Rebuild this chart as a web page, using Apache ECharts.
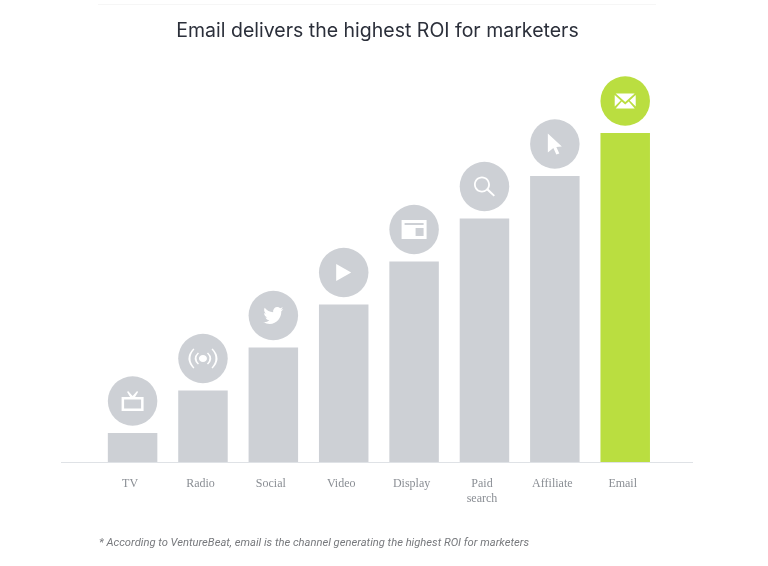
<!DOCTYPE html>
<html>
<head>
<meta charset="utf-8">
<title>Email ROI</title>
<script src="https://cdn.jsdelivr.net/npm/echarts@6/dist/echarts.min.js"></script>
<style>
  html, body { margin: 0; padding: 0; background: #fff; }
  #chart { width: 768px; height: 566px; }
</style>
</head>
<body>
<div id="chart"></div>
<script>
// no scale on the original, bar heights are read off in picture pixels
const channels = ['TV', 'Radio', 'Social', 'Video', 'Display', 'Paid\nsearch', 'Affiliate', 'Email'];
const roi = [29, 71.5, 114.5, 157.5, 200.5, 243.5, 286, 329];
const highlighted = 'Email';
const chartTitle = 'Email delivers the highest ROI for marketers';
const footnote = '* According to VentureBeat, email is the channel generating the highest ROI for marketers';

const GREY = '#cdd0d5';
const GREEN = '#bade40';

// white glyphs for the badges, holes wound the other way
const ICONS = {
  TV: { size: [22, 20], d: 'M0 6H8.5L5.5 1 6.5 0 11 5 15.5 0 16.5 1 13.5 6H22V20H0Z M2.5 8.5V17.5H19.5V8.5Z' },
  Radio: { size: [29, 20], d: 'M6 0Q-2.5 10 6 20L7 19.2Q0 10 7 0.8Z M10 4Q4.5 10 10 16L11 15.2Q6.5 10 11 4.8Z M14.5 6.5C16.5 6.5 18 8 18 10C18 12 16.5 13.5 14.5 13.5C12.5 13.5 11 12 11 10C11 8 12.5 6.5 14.5 6.5Z M23 0Q31.5 10 23 20L22 19.2Q29 10 22 0.8Z M19 4Q24.5 10 19 16L18 15.2Q22.5 10 18 4.8Z' },
  Social: { size: [20, 17], d: 'M23.953 4.57a10 10 0 0 1-2.825.775 4.958 4.958 0 0 0 2.163-2.723c-.951.555-2.005.959-3.127 1.184a4.92 4.92 0 0 0-8.384 4.482C7.69 8.095 4.067 6.13 1.64 3.162a4.822 4.822 0 0 0-.666 2.475c0 1.71.87 3.213 2.188 4.096a4.904 4.904 0 0 1-2.228-.616v.06a4.923 4.923 0 0 0 3.946 4.827 4.996 4.996 0 0 1-2.212.085 4.936 4.936 0 0 0 4.604 3.417 9.867 9.867 0 0 1-6.102 2.105c-.39 0-.779-.023-1.17-.067a13.995 13.995 0 0 0 7.557 2.209c9.053 0 13.998-7.496 13.998-13.985 0-.21 0-.42-.015-.63A9.935 9.935 0 0 0 24 4.59z' },
  Video: { size: [15, 17], d: 'M0 0L15 8.5 0 17Z' },
  Display: { size: [25, 19], d: 'M0 0H25V19H0Z M3 3V5H22V3Z M14 8V16H22V8Z' },
  'Paid\nsearch': { size: [21, 20], d: 'M8 0C12.4 0 16 3.6 16 8C16 9.7 15.5 11.2 14.6 12.5L21 18.8 19.7 20 13 14.1C11.6 15.3 9.9 16 8 16C3.6 16 0 12.4 0 8C0 3.6 3.6 0 8 0Z M8 1.8C4.6 1.8 1.8 4.6 1.8 8C1.8 11.4 4.6 14.2 8 14.2C11.4 14.2 14.2 11.4 14.2 8C14.2 4.6 11.4 1.8 8 1.8Z' },
  Affiliate: { size: [14, 21], d: 'M0 0L14 13 8.5 13.5 11.5 20 8.5 21 5.5 14.5 0 19Z' },
  Email: { size: [21, 15], d: 'M1 0H20L10.5 8.5Z M0 1.5L6 7 0 13Z M21 1.5L15 7 21 13Z M1 15L7 8 10.5 11 14 8 20 15Z' }
};

const chart = echarts.init(document.getElementById('chart'));

const barColor = name => (name === highlighted ? GREEN : GREY);

chart.setOption({
  animation: false,
  backgroundColor: '#fff',
  title: [
    {
      text: chartTitle,
      left: 372.5,
      top: 16.5,
      textAlign: 'center',
      textStyle: { fontFamily: 'Inter', fontSize: 19.5, fontWeight: 400, color: '#2b2f3a' }
    },
    {
      text: footnote,
      left: 94,
      top: 533,
      textStyle: { fontFamily: 'Roboto', fontSize: 11.2, fontStyle: 'italic', fontWeight: 400, color: '#77797d' }
    }
  ],
  grid: { left: 97.4, right: 107.6, top: 112, bottom: 104 },
  xAxis: {
    type: 'category',
    data: channels,
    axisLine: { show: false },
    axisTick: { show: false },
    axisLabel: {
      interval: 0,
      margin: 14,
      padding: [0, 5, 0, 0],
      lineHeight: 15,
      fontFamily: 'Liberation Serif',
      fontSize: 12,
      color: '#8a8e94'
    }
  },
  yAxis: { type: 'value', min: 0, max: 350, show: false },
  series: [
    {
      type: 'bar',
      silent: true,
      barWidth: 49.5,
      data: roi.map((v, i) => ({ value: v, itemStyle: { color: barColor(channels[i]) } }))
    },
    {
      // round badge floating over each bar
      type: 'scatter',
      silent: true,
      clip: false,
      symbol: 'circle',
      symbolSize: 49.5,
      symbolOffset: [0, -32],
      data: roi.map((v, i) => ({ value: v, itemStyle: { color: barColor(channels[i]), opacity: 1 } }))
    },
    {
      type: 'scatter',
      silent: true,
      clip: false,
      z: 3,
      symbolOffset: [0, -32],
      itemStyle: { color: '#fff', opacity: 1 },
      data: roi.map((v, i) => ({
        value: v,
        symbol: 'path://' + ICONS[channels[i]].d,
        symbolSize: ICONS[channels[i]].size
      }))
    }
  ],
  graphic: [
    { type: 'line', shape: { x1: 61, y1: 462.5, x2: 693, y2: 462.5 }, style: { stroke: '#dfe2e6', lineWidth: 1 } },
    { type: 'line', shape: { x1: 98, y1: 4.5, x2: 656, y2: 4.5 }, style: { stroke: '#f6f6f6', lineWidth: 1 } }
  ]
});
</script>
</body>
</html>
